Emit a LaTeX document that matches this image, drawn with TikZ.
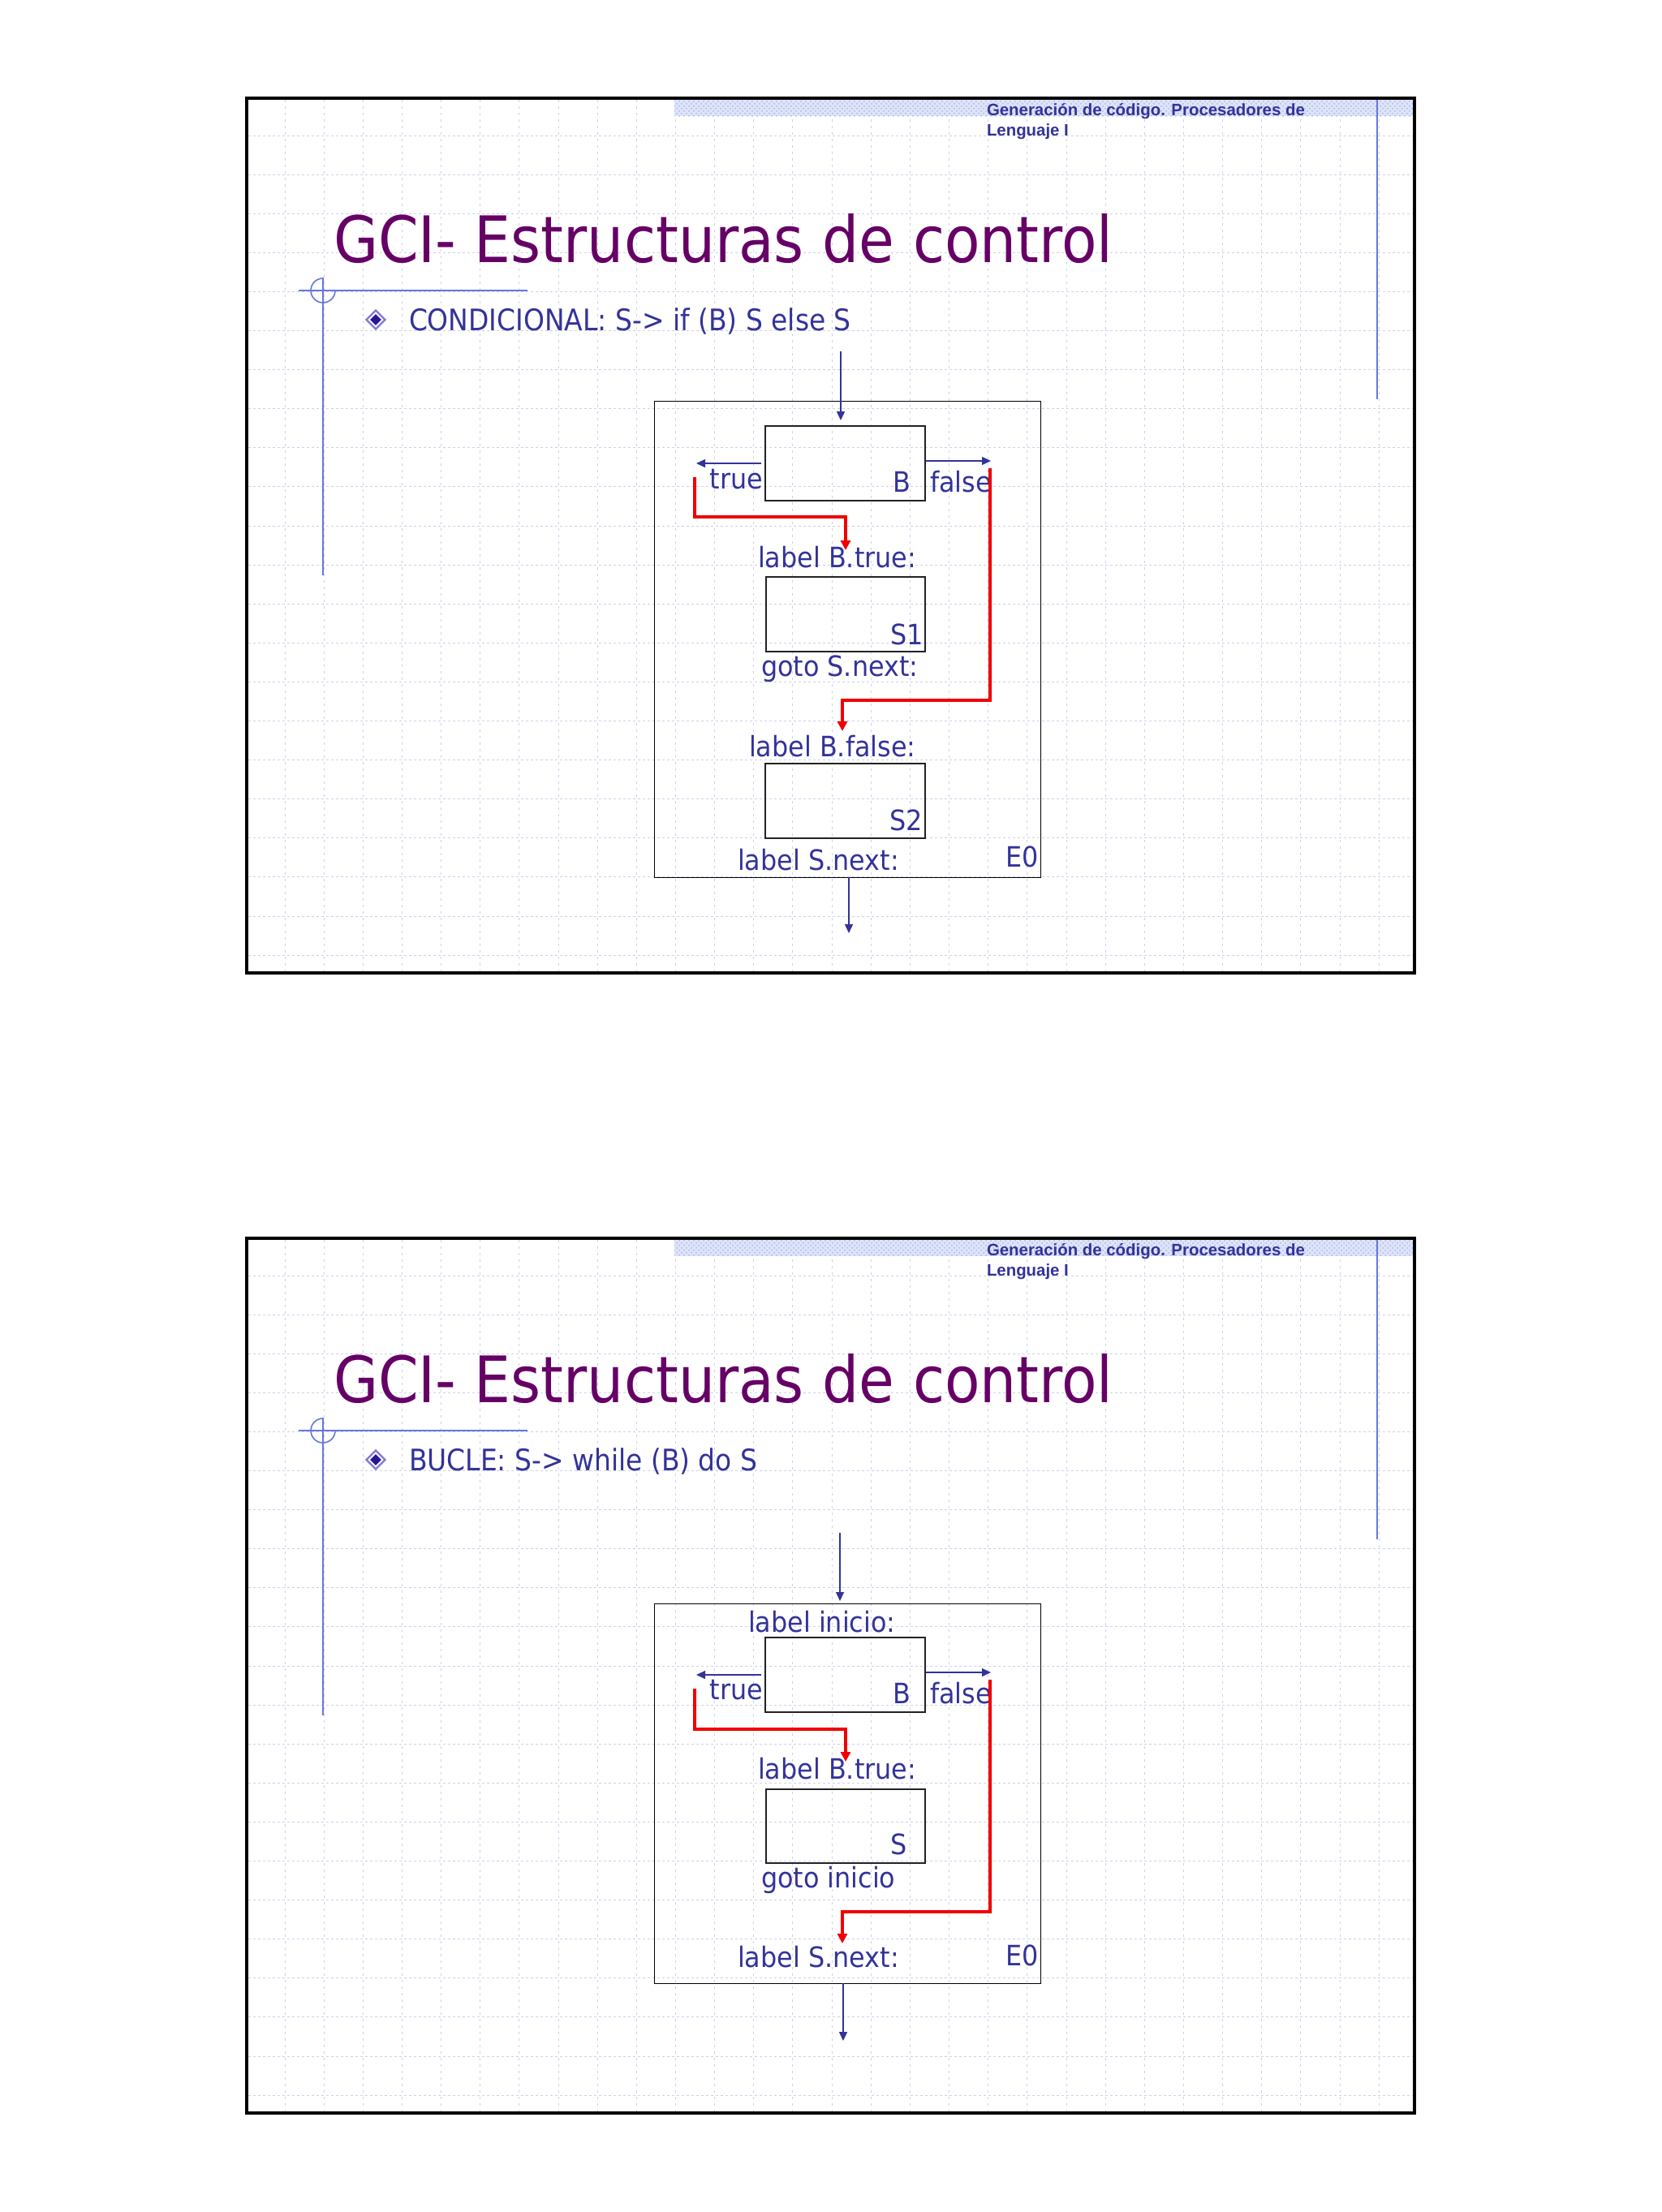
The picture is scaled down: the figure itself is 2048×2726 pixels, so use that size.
\documentclass[tikz,border=0pt]{standalone}
\usepackage{fontspec}
\usetikzlibrary{arrows.meta,shapes.geometric,patterns}
\newfontfamily\tahfont{DejaVu Sans}[FakeStretch=0.9]
\newfontfamily\tahdfont{DejaVu Sans}[FakeStretch=0.92]
\newfontfamily\hdrfont{Liberation Sans}
\definecolor{txtblue}{RGB}{51,51,153}
\definecolor{titlepurple}{RGB}{102,0,102}
\definecolor{decoblue}{RGB}{102,119,221}
\definecolor{gridc}{RGB}{205,208,234}
\definecolor{redc}{RGB}{240,0,0}
\definecolor{bandfill}{RGB}{222,228,248}
\definecolor{bandpat}{RGB}{170,185,235}
\definecolor{diaout}{RGB}{130,120,210}
\definecolor{diain}{RGB}{40,20,150}
\definecolor{boxc}{RGB}{34,34,34}
\begin{document}
\begin{tikzpicture}[x=0.5pt,y=-0.5pt,
  gridh/.style={draw=gridc,line width=0.5pt,dash pattern=on 1.5pt off 1.5pt},
  gridv/.style={draw=gridc,line width=0.5pt,dash pattern=on 1.5pt off 2.5pt},
  deco/.style={draw=decoblue,line width=0.8pt},
  framebox/.style={draw=black,line width=2pt},
  hdr/.style={text=txtblue,font=\hdrfont\bfseries\fontsize{10.2}{12}\selectfont,inner sep=0pt,outer sep=0pt},
  ttl/.style={text=titlepurple,font=\tahfont\fontsize{39.5}{46}\selectfont,inner sep=0pt,outer sep=0pt},
  bul/.style={text=txtblue,font=\tahfont\fontsize{18.3}{22}\selectfont,inner sep=0pt,outer sep=0pt},
  dtxt/.style={text=txtblue,font=\tahdfont\fontsize{17.3}{20}\selectfont,inner sep=0pt,outer sep=0pt},
  outerdia/.style={diamond,draw=diaout,line width=1.2pt,fill=white,inner sep=0pt,minimum width=12pt,minimum height=12pt},
  innerdia/.style={diamond,fill=diain,inner sep=0pt,minimum width=7pt,minimum height=7pt},
  ebox/.style={draw=black,line width=0.7pt,inner sep=0pt,anchor=north west},
  blk/.style={draw=boxc,line width=0.8pt,inner sep=0pt,anchor=north west,minimum width=98.5pt,minimum height=46pt},
  barr/.style={draw=txtblue,line width=0.7pt,-{Triangle[length=5.5pt,width=5pt]}},
  rarr/.style={draw=redc,line width=1.7pt,-{Triangle[length=6pt,width=6pt]}}
]
\useasboundingbox (0,0) rectangle (2048,2726);
\fill[white] (0,0) rectangle (2048,2726);

\foreach \s/\oy/\bt in {1/0/{CONDICIONAL: S-> if (B) S else S},2/1405/{BUCLE: S-> while (B) do S}}{
\begin{scope}[shift={(0,\oy)}]
  \foreach \k in {0,...,21} \draw[gridh] (306,{167+48.1*\k}) -- (1741,{167+48.1*\k});
  \foreach \k in {0,...,28} \draw[gridv] ({351+48.15*\k},123) -- ({351+48.15*\k},1197);
  \fill[bandfill] (831,123) rectangle (1741,143);
  \fill[pattern=crosshatch dots,pattern color=bandpat] (831,123) rectangle (1741,143);
  \node[hdr,anchor=base west] (hdrA\s) at (1216,142) {Generación de código. Procesadores de};
  \node[hdr,anchor=base west] (hdrB\s) at (1216,167) {Lenguaje I};
  \draw[deco] (1697,122) -- (1697,492);
  \draw[deco] (368,358) -- (650,358);
  \draw[deco] (398,342) -- (398,709);
  \draw[deco] (413,358) arc[start angle=0,end angle=270,radius=15];
  \node[ttl,anchor=base west] (title\s) at (411,323) {GCI- Estructuras de control};
  \node[outerdia] (diaA\s) at (463,394) {};
  \node[innerdia] (diaB\s) at (463,394) {};
  \node[bul,anchor=base west] (bullet\s) at (504,407) {\bt};
  \draw[framebox] (304,121) rectangle (1743,1199);
\end{scope}
}

% ---------- Diagram 1: CONDICIONAL ----------
\node[ebox,minimum width=238pt,minimum height=293.5pt] (E1) at (806,494) {};
\node[blk] (B1) at (942,524) {};
\node[blk,minimum width=98pt] (S1) at (943,710) {};
\node[blk] (S2) at (942,940) {};

\node[dtxt,anchor=base east] (tB1) at (1122,606) {B};
\node[dtxt,anchor=base east] (ttrue1) at (940,602) {true};
\node[dtxt,anchor=base west] (tfalse1) at (1146,606) {false};
\node[dtxt,anchor=base west] (tlbt1) at (934,699) {label B.true:};
\node[dtxt,anchor=base east] (tS1) at (1138,794) {S1};
\node[dtxt,anchor=base west] (tgoto1) at (938,833) {goto S.next:};
\node[dtxt,anchor=base west] (tlbf1) at (923,932) {label B.false:};
\node[dtxt,anchor=base east] (tS2) at (1137,1023) {S2};
\node[dtxt,anchor=base west] (tlsn1) at (909,1072) {label S.next:};
\node[dtxt,anchor=base east] (tE01) at (1280,1068) {E0};

\coordinate (in1s) at (1036,433);
\coordinate (in1e) at (1036,518);
\draw[barr] (in1s) -- (in1e);
\coordinate (tr1s) at (938,571);
\coordinate (tr1e) at (858,571);
\draw[barr] (tr1s) -- (tr1e);
\coordinate (fa1s) at (1141,568);
\coordinate (fa1e) at (1221,568);
\draw[barr] (fa1s) -- (fa1e);
\coordinate (out1s) at (1046,1081);
\coordinate (out1e) at (1046,1150);
\draw[barr] (out1s) -- (out1e);

\coordinate (rt1s) at (856,588);
\coordinate (rt1k) at (1042,637);
\coordinate (rt1e) at (1042,678);
\draw[rarr] (rt1s) |- (rt1k) -- (rt1e);
\coordinate (rf1s) at (1220,577);
\coordinate (rf1k) at (1038,863);
\coordinate (rf1e) at (1038,901);
\draw[rarr] (rf1s) |- (rf1k) -- (rf1e);

% ---------- Diagram 2: BUCLE ----------
\node[ebox,minimum width=238pt,minimum height=234pt] (E2) at (806,1976) {};
\node[blk] (B2) at (942,2017) {};
\node[blk,minimum width=98pt,minimum height=45.5pt] (Sb) at (943,2204) {};

\node[dtxt,anchor=base west] (tini2) at (922,2011) {label inicio:};
\node[dtxt,anchor=base east] (tB2) at (1122,2099) {B};
\node[dtxt,anchor=base east] (ttrue2) at (940,2094) {true};
\node[dtxt,anchor=base west] (tfalse2) at (1146,2099) {false};
\node[dtxt,anchor=base west] (tlbt2) at (934,2192) {label B.true:};
\node[dtxt,anchor=base east] (tS) at (1118,2285) {S};
\node[dtxt,anchor=base west] (tgoto2) at (938,2326) {goto inicio};
\node[dtxt,anchor=base west] (tlsn2) at (909,2424) {label S.next:};
\node[dtxt,anchor=base east] (tE02) at (1280,2422) {E0};

\coordinate (in2s) at (1035,1889);
\coordinate (in2e) at (1035,1973);
\draw[barr] (in2s) -- (in2e);
\coordinate (tr2s) at (938,2064);
\coordinate (tr2e) at (858,2064);
\draw[barr] (tr2s) -- (tr2e);
\coordinate (fa2s) at (1141,2061);
\coordinate (fa2e) at (1221,2061);
\draw[barr] (fa2s) -- (fa2e);
\coordinate (out2s) at (1039,2444);
\coordinate (out2e) at (1039,2515);
\draw[barr] (out2s) -- (out2e);

\coordinate (rt2s) at (856,2081);
\coordinate (rt2k) at (1042,2131);
\coordinate (rt2e) at (1042,2171);
\draw[rarr] (rt2s) |- (rt2k) -- (rt2e);
\coordinate (rf2s) at (1220,2070);
\coordinate (rf2k) at (1038,2356);
\coordinate (rf2e) at (1038,2395);
\draw[rarr] (rf2s) |- (rf2k) -- (rf2e);
\end{tikzpicture}
\end{document}
